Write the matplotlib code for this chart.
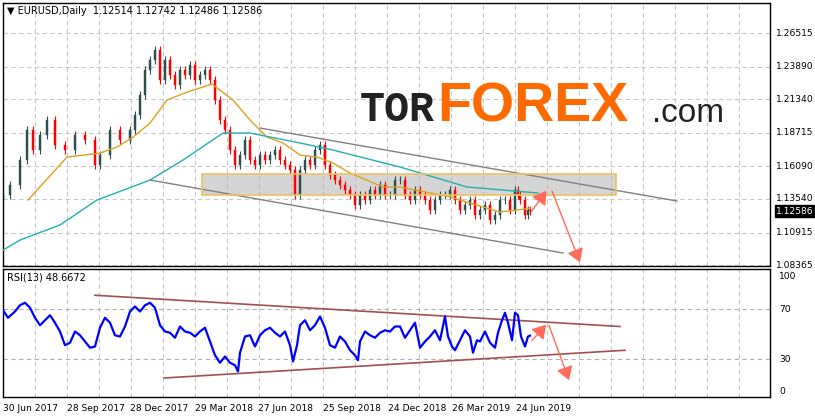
import matplotlib
matplotlib.use("Agg")
import matplotlib.pyplot as plt
from matplotlib.patches import Rectangle, FancyArrowPatch

# bar index (approx one bar per pixel) and closes
bars = [3,10,20,27,33,40,47,55,65,75,85,95,100,110,120,130,135,140,145,150,155,160,165,170,175,180,185,190,195,200,205,210,215,220,225,230,235,240,245,250,255,260,265,270,275,280,285,290,295,300,305,310,315,320,325,330,335,340,345,350,355,360,365,370,375,380,385,390,395,400,405,410,415,420,425,430,435,440,445,450,455,460,465,470,475,480,485,490,495,500,505,510,515,518,520,525,528,530]
closes = [1.1385,1.1463,1.1659,1.1893,1.1737,1.1854,1.1972,1.1776,1.1737,1.1854,1.1815,1.1620,1.1698,1.1893,1.1815,1.1893,1.2011,1.2167,1.2363,1.2441,1.2519,1.2284,1.2441,1.2324,1.2245,1.2363,1.2324,1.2402,1.2284,1.2324,1.2363,1.2284,1.2128,1.1972,1.1893,1.1737,1.1620,1.1698,1.1815,1.1659,1.1620,1.1698,1.1659,1.1698,1.1737,1.1659,1.1620,1.1581,1.1385,1.1581,1.1659,1.1620,1.1737,1.1776,1.1620,1.1542,1.1502,1.1463,1.1424,1.1385,1.1307,1.1385,1.1346,1.1424,1.1385,1.1463,1.1385,1.1385,1.1502,1.1502,1.1385,1.1346,1.1424,1.1385,1.1346,1.1268,1.1346,1.1385,1.1385,1.1424,1.1346,1.1268,1.1307,1.1346,1.1229,1.1268,1.1307,1.1190,1.1229,1.1346,1.1346,1.1268,1.1424,1.1385,1.1346,1.1229,1.1268,1.1259]

ma_fast_x = [28,67,100,117,133,150,167,187,212,233,250,267,283,300,317,333,350,383,400,450,500,517,530]
ma_fast = [1.1346,1.1682,1.1713,1.1760,1.1838,1.1948,1.2128,1.2190,1.2253,1.2128,1.1972,1.1838,1.1792,1.1698,1.1682,1.1635,1.1557,1.1448,1.1448,1.1370,1.1252,1.1268,1.1284]
ma_slow_x = [3,20,60,97,150,183,223,250,300,333,400,467,538]
ma_slow = [1.0955,1.1033,1.1151,1.1346,1.1502,1.1659,1.1870,1.1870,1.1792,1.1737,1.1604,1.1448,1.1401]

rsi_x = [3,8,15,20,25,30,35,40,45,50,55,60,65,70,75,80,85,90,95,100,105,110,115,120,125,130,135,140,145,150,155,160,165,170,175,180,185,190,195,200,205,210,215,220,225,230,235,238,240,245,250,255,260,265,270,275,280,285,290,293,297,300,305,310,315,320,325,330,335,340,345,350,355,358,360,365,370,375,380,385,390,395,400,405,410,415,420,425,430,435,440,445,448,452,455,460,465,470,473,477,480,485,490,495,498,502,505,508,512,515,518,521,525,528,530]
rsi = [69,63,68,73,75,71,63,57,61,65,59,52,41,43,52,49,44,39,40,55,63,59,49,48,56,68,72,68,73,75,71,57,52,51,47,56,52,51,48,52,55,44,33,27,32,27,25,20,35,48,49,40,49,53,55,51,48,52,41,28,41,57,61,53,57,64,55,41,39,48,44,37,33,29,44,52,49,47,51,53,52,56,56,47,53,59,39,44,48,53,45,64,48,40,37,45,53,48,35,45,44,52,43,39,51,61,67,59,45,67,65,48,40,48,48.67]

price_ticks = [1.26515,1.23890,1.21340,1.18715,1.16090,1.13540,1.10915,1.08365]
date_pos = [3,67,130,195,258,323,388,452,516]
date_labels = ["30 Jun 2017","28 Sep 2017","28 Dec 2017","29 Mar 2018","27 Jun 2018","25 Sep 2018","24 Dec 2018","26 Mar 2019","24 Jun 2019"]

W, H = 815, 419
FS = 6.6
fig = plt.figure(figsize=(W/100, H/100), dpi=100)
fig.patch.set_facecolor("white")
L, R = 3/W, 770/W
ax = fig.add_axes([L, 1-266/H, R-L, 263/H])
ax2 = fig.add_axes([L, 1-397/H, R-L, 128/H])
for a in (ax, ax2):
    a.set_xlim(3, 770)
    for s in a.spines.values():
        s.set_color("black"); s.set_linewidth(1)
    a.tick_params(left=False, right=False, bottom=False, top=False, labelleft=False, labelbottom=False)
    for g in range(35, 770, 32):
        a.axvline(g, color="#c8c8c8", lw=0.8, ls=(0, (4, 3)), zorder=0)
ax.set_ylim(1.0830, 1.2887)
ax2.set_ylim(-0.4, 102)
for p in price_ticks:
    ax.axhline(p, color="#c8c8c8", lw=0.8, ls=(0, (4, 3)), zorder=0)
    fig.text(776/W, 1-(1.2910-p)/0.000782/H, f"{p:.5f}", fontsize=FS, va="center", ha="left")
for v in (70, 30):
    ax2.axhline(v, color="#b0b0b0", lw=0.8, ls=(0, (4, 3)), zorder=0)
for v, lab in ((100, "100"), (70, "70"), (30, "30"), (0, "0")):
    yy = 1-(396.5-1.25*v)/H
    if v == 100:
        yy -= 5/H
    if v == 0:
        yy += 5/H
    fig.text(779/W, yy, lab, fontsize=FS, va="center", ha="left")

# box zone
ax.add_patch(Rectangle((202, 1.1385), 414, 0.0165, facecolor="#b4b4b4", alpha=0.55, edgecolor="none", zorder=1))
ax.add_patch(Rectangle((202, 1.1385), 414, 0.0165, facecolor="none", edgecolor="#f0c060", lw=1.2, zorder=4))

# candles
prev = closes[0] - 0.003
for x, c in zip(bars, closes):
    up = c >= prev
    col = "#2f4f4f" if up else "#ff0000"
    lo, hi = min(prev, c), max(prev, c)
    ax.vlines(x, lo - 0.003, hi + 0.003, color=col, lw=0.8, zorder=2)
    ax.add_patch(Rectangle((x - 1.4, lo), 2.8, max(hi - lo, 0.0004), facecolor=col, edgecolor=col, lw=0.3, zorder=2))
    prev = c

ax.plot(ma_fast_x, ma_fast, color="#e0a020", lw=1, zorder=3)
ax.plot(ma_slow_x, ma_slow, color="#20b0b0", lw=1, zorder=3)
# channel
ax.plot([260, 677], [1.2910-128*0.000782, 1.2910-201*0.000782], color="#808080", lw=1, zorder=3)
ax.plot([150, 563], [1.2910-180*0.000782, 1.2910-253*0.000782], color="#808080", lw=1, zorder=3)

def arrow(a, p0, p1):
    a.add_patch(FancyArrowPatch(p0, p1, arrowstyle="-|>,head_length=4,head_width=2.5", color="#ff6a5a", lw=1.0, zorder=5, mutation_scale=2))
arrow(ax, (530, 1.1240), (548, 1.1436))
arrow(ax, (551, 1.1436), (581, 1.0838))

ax2.plot(rsi_x, rsi, color="#0000ff", lw=1.6, zorder=3)
ax2.plot([95, 620], [81, 56], color="#a05050", lw=1.2, zorder=2)
ax2.plot([164, 625], [14.8, 37], color="#a05050", lw=1.2, zorder=2)
arrow(ax2, (530, 43), (548, 59))
arrow(ax2, (548, 59), (570, 11))

fig.text(7/W, 1-11/H, "▼ EURUSD,Daily  1.12514 1.12742 1.12486 1.12586", fontsize=FS+0.4, va="center")
fig.text(7/W, 1-278/H, "RSI(13) 48.6672", fontsize=FS+0.4, va="center")
for xp, lab in zip(date_pos, date_labels):
    fig.text(xp/W, 1-408/H, lab, fontsize=FS, va="center", ha="left")

# last price box
yl = 1-(1.2910-1.12586)/0.000782/H
fig.text(776/W, yl, "1.12586", fontsize=FS, va="center", ha="left", color="white",
         bbox=dict(boxstyle="square,pad=0.15", facecolor="black", edgecolor="black"))

# watermark
fig.text(360/W, 1-110/H, "TOR", fontsize=30, family="Liberation Mono", weight="bold", va="center", ha="left", color="#222222")
fig.text(437/W, 1-108/H, "FOREX", fontsize=40, weight="bold", family="Liberation Sans", va="center", ha="left", color="#ff6a00")
fig.text(652/W, 1-113/H, ".com", fontsize=24, family="Liberation Sans", va="center", ha="left", color="#222222")

fig.savefig("out.png", dpi=100, facecolor="white")
